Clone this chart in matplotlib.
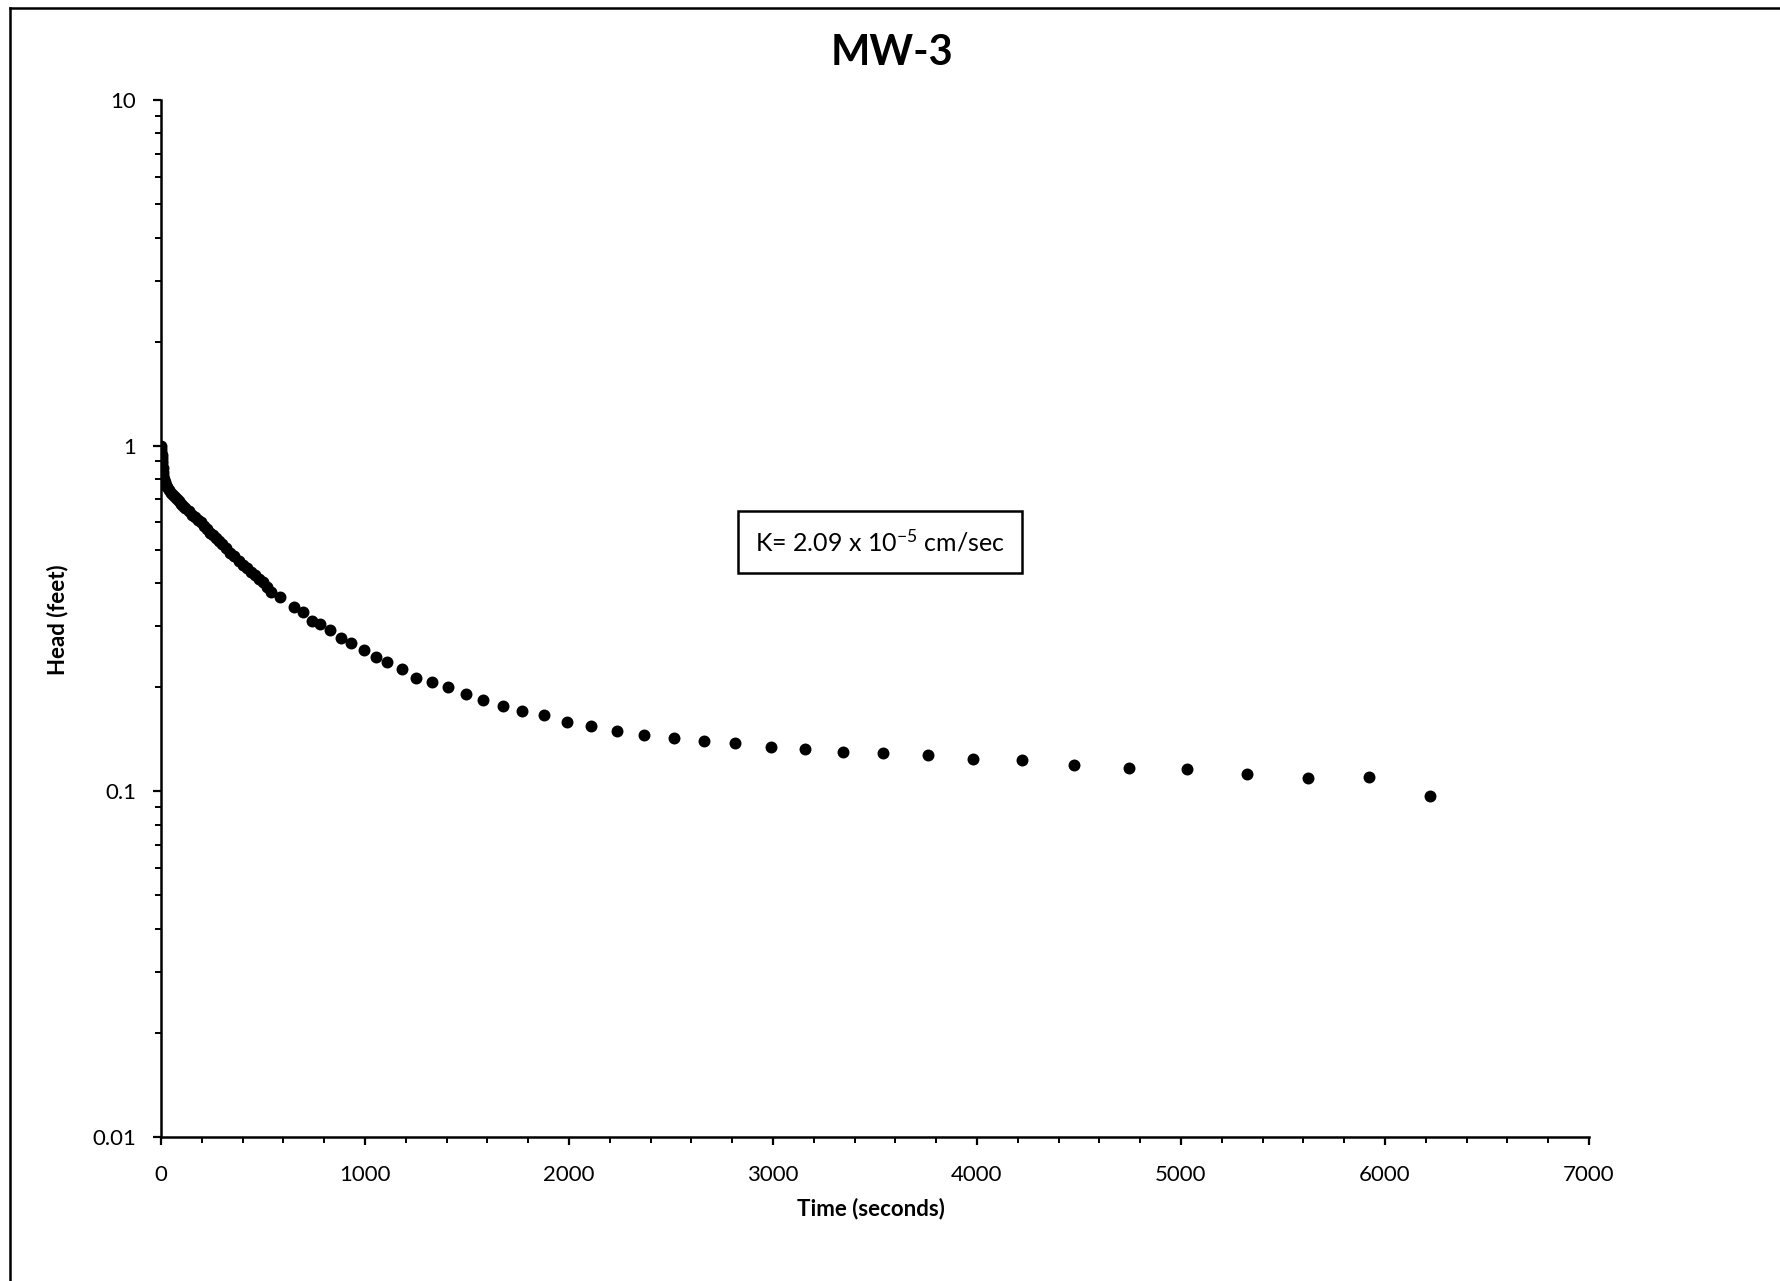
import matplotlib
matplotlib.use("Agg")
import matplotlib.pyplot as plt
from matplotlib.ticker import FixedLocator, MultipleLocator, LogLocator, NullFormatter
from matplotlib.lines import Line2D

plt.rcParams['font.family'] = ['Lato', 'DejaVu Sans']
plt.rcParams['mathtext.fontset'] = 'custom'
plt.rcParams['mathtext.rm'] = 'Lato'
plt.rcParams['mathtext.it'] = 'Lato'

# ---- data ----
time_s = [0, 1, 2, 3, 4, 5, 6, 8, 10, 12, 15, 20, 25, 30, 40, 50, 60, 70, 80, 90,
          100, 110, 120, 135, 150, 165, 180, 195, 210, 225, 240, 255, 270, 285, 300,
          320, 340, 360, 380, 400, 420, 440, 460, 480, 500, 520,
          541, 582, 650, 698, 738, 778, 827, 881, 931, 994, 1052, 1110, 1181, 1252,
          1328, 1407, 1494, 1578, 1676, 1771, 1878, 1990, 2110, 2235, 2366, 2517,
          2661, 2812, 2990, 3157, 3341, 3541, 3758, 3981, 4220, 4477, 4744, 5028,
          5323, 5624, 5924, 6219]
head_ft = [1.00, 0.98, 0.96, 0.94, 0.92, 0.90, 0.89, 0.86, 0.84, 0.82, 0.80, 0.785, 0.77,
           0.76, 0.745, 0.73, 0.72, 0.71, 0.70, 0.69, 0.68, 0.67, 0.66, 0.645, 0.63, 0.62,
           0.61, 0.60, 0.585, 0.575, 0.56, 0.55, 0.54, 0.53, 0.52, 0.505, 0.49, 0.478,
           0.465, 0.453, 0.442, 0.432, 0.422, 0.412, 0.402, 0.39,
           0.378, 0.366, 0.342, 0.331, 0.312, 0.305, 0.292, 0.277, 0.269, 0.256, 0.244,
           0.237, 0.226, 0.213, 0.207, 0.200, 0.191, 0.184, 0.177, 0.171, 0.166, 0.159,
           0.155, 0.149, 0.146, 0.143, 0.140, 0.138, 0.134, 0.133, 0.130, 0.129, 0.127,
           0.124, 0.123, 0.119, 0.117, 0.116, 0.112, 0.109, 0.110, 0.097]

x_ticks = [0, 1000, 2000, 3000, 4000, 5000, 6000, 7000]
y_ticks = [0.01, 0.1, 1, 10]
y_tick_labels = ["0.01", "0.1", "1", "10"]

title = "MW-3"
x_label = "Time (seconds)"
y_label = "Head (feet)"
annotation = r"K= 2.09 x 10$^{\mathregular{-5}}$ cm/sec"

# ---- figure ----
W, H = 1781, 1281
fig = plt.figure(figsize=(W / 100, H / 100), dpi=100)
ax = fig.add_axes([161 / W, 1 - 1137 / H, (1589 - 161) / W, (1137 - 100) / H])

ax.plot(time_s, head_ft, 'o', color='black', markersize=8.6, markeredgewidth=0)

ax.set_yscale('log')
ax.set_xlim(0, 7000)
ax.set_ylim(0.01, 10)

ax.xaxis.set_major_locator(FixedLocator(x_ticks))
ax.xaxis.set_minor_locator(MultipleLocator(200))
ax.set_xticklabels([str(v) for v in x_ticks])
ax.yaxis.set_major_locator(FixedLocator(y_ticks))
ax.set_yticklabels(y_tick_labels)
ax.yaxis.set_minor_locator(LogLocator(base=10, subs=range(2, 10)))
ax.yaxis.set_minor_formatter(NullFormatter())

for s in ['top', 'right']:
    ax.spines[s].set_visible(False)
for s in ['left', 'bottom']:
    ax.spines[s].set_linewidth(1.8)
    ax.spines[s].set_color('black')

ax.tick_params(which='major', direction='out', length=6, width=1.6, labelsize=16, color='black')
ax.tick_params(which='minor', direction='out', length=4.5, width=1.4, color='black')
ax.tick_params(axis='y', which='major', pad=12)
ax.tick_params(axis='x', which='major', pad=14)

fig.text(892 / W, 1 - 53 / H, title, ha='center', va='center', fontsize=30, fontweight='bold')
fig.text(871 / W, 1 - 1209 / H, x_label, ha='center', va='center', fontsize=16, fontweight='bold')
fig.text(58 / W, 1 - 620 / H, y_label, ha='center', va='center', fontsize=16,
         fontweight='bold', rotation=90)

ax.text(0.5035, 0.5738, annotation, transform=ax.transAxes, ha='center', va='center',
        fontsize=18,
        bbox=dict(boxstyle='square,pad=0.7', facecolor='white', edgecolor='black', linewidth=1.8))

# outer frame of the scanned chart
fig.add_artist(Line2D([10 / W, 10 / W], [0, 1 - 8 / H], transform=fig.transFigure,
                      color='black', linewidth=1.8))
fig.add_artist(Line2D([10 / W, 1], [1 - 8 / H, 1 - 8 / H], transform=fig.transFigure,
                      color='black', linewidth=1.8))

fig.savefig("out.png", dpi=100, facecolor='white')
